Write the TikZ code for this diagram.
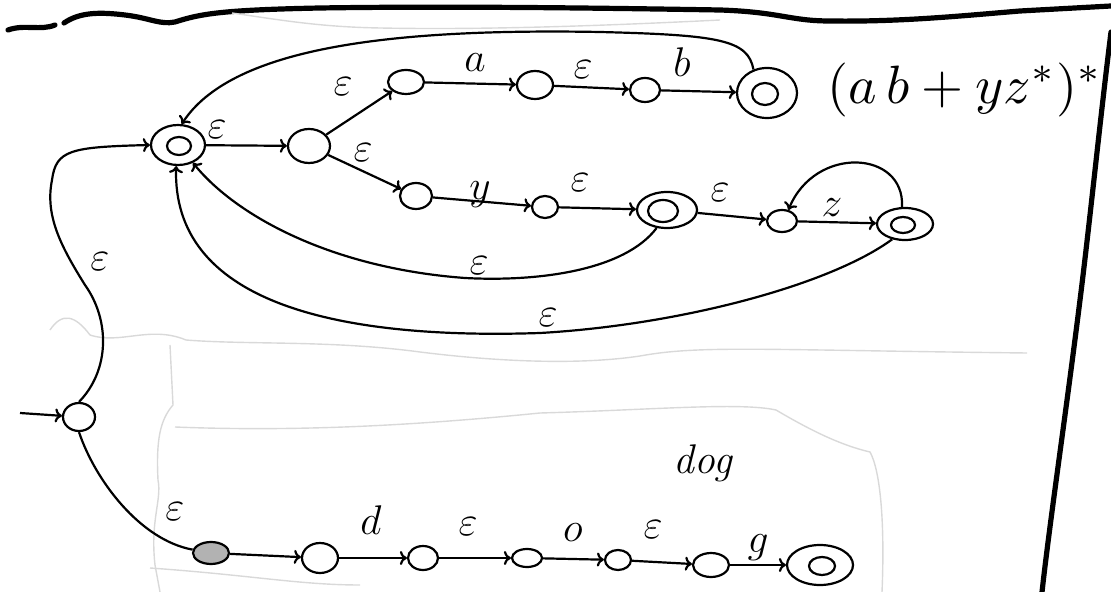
\documentclass[tikz,border=0pt]{standalone}
\usepackage{amssymb}
\usetikzlibrary{arrows,arrows.meta,shapes.geometric}

\begin{document}
\begin{tikzpicture}[x=0.5pt,y=-0.5pt,line width=1.1pt,>={To[length=3.5pt,width=7pt]},
		st/.style={draw,ellipse,inner sep=0pt},
		lbl/.style={font=\huge,inner sep=0pt},
		faint/.style={gray!30,line width=0.7pt},
		rim/.style={line width=2.6pt,line cap=round}]
	\useasboundingbox (0,0) rectangle (1111,592);
	% page edges
	\draw[rim] (8,30) .. controls (25,24) and (40,31) .. (55,25);
	\draw[rim] (64,23) .. controls (80,12) and (100,12) .. (125,15) .. controls (150,18) and (160,25) .. (175,22) .. controls (200,14) and (220,10) .. (320,8) .. controls (450,6) and (600,8) .. (720,10) .. controls (780,12) and (790,21) .. (830,21) .. controls (900,22) and (960,16) .. (1020,11) -- (1111,6);
	\draw[rim] (1111,32) .. controls (1100,120) and (1090,220) .. (1080,300) .. controls (1065,420) and (1050,520) .. (1042,592);
	\draw[faint] (232,13) .. controls (280,20) and (320,27) .. (380,28) .. controls (480,30) and (600,26) .. (720,20);
	\draw[faint] (50,330) .. controls (62,312) and (75,315) .. (90,335) .. controls (120,345) and (150,325) .. (186,340) .. controls (250,345) and (330,340) .. (420,352) .. controls (500,362) and (580,365) .. (640,356) .. controls (700,345) and (760,350) .. (1027,353);
	\draw[faint] (170,345) -- (173,405) .. controls (160,420) and (156,440) .. (158,480) .. controls (162,500) and (150,520) .. (155,565) -- (160,592);
	\draw[faint] (175,427) .. controls (300,432) and (420,425) .. (540,413) .. controls (650,410) and (740,402) .. (776,410) .. controls (810,430) and (840,445) .. (870,452) .. controls (880,470) and (885,520) .. (882,592);
	\draw[faint] (150,568) .. controls (250,575) and (300,585) .. (360,585);

	% (ab+yz*)* part
	\node[st,minimum width=27pt,minimum height=20pt] (S) at (178,145) {};
	\node[st,minimum width=12pt,minimum height=9pt] (Sin) at (179,146) {};
	\node[st,minimum width=21pt,minimum height=17pt] (A) at (309,146) {};
	\node[st,minimum width=18pt,minimum height=12pt] (B1) at (406,82) {};
	\node[st,minimum width=18pt,minimum height=14pt] (B2) at (535,85) {};
	\node[st,minimum width=15pt,minimum height=12pt] (B3) at (645,90) {};
	\node[st,minimum width=30pt,minimum height=25pt] (F1) at (767,93) {};
	\node[st,minimum width=13pt,minimum height=11pt] (F1in) at (765,94) {};
	\node[st,minimum width=16pt,minimum height=13pt] (C1) at (416,196) {};
	\node[st,minimum width=13pt,minimum height=11pt] (C2) at (545,207) {};
	\node[st,minimum width=30pt,minimum height=18pt] (C3) at (667,210) {};
	\node[st,minimum width=15pt,minimum height=11pt] (C3in) at (663,211) {};
	\node[st,minimum width=15pt,minimum height=11pt] (C4) at (782,221) {};
	\node[st,minimum width=28pt,minimum height=16pt] (C5) at (905,224) {};
	\node[st,minimum width=12pt,minimum height=8pt] (C5in) at (903,225) {};
	\node[scale=2.7] (re) at (965,90) {$(a\,b+yz^*)^*$};

	% dog part
	\coordinate (qin) at (20,413);
	\node[st,minimum width=16pt,minimum height=14pt] (q0) at (79,417) {};
	\node[st,fill=gray!60,minimum width=18pt,minimum height=11pt] (D0) at (211,553) {};
	\node[st,minimum width=18pt,minimum height=15pt] (D1) at (320,558) {};
	\node[st,minimum width=15pt,minimum height=12pt] (D2) at (423,558) {};
	\node[st,minimum width=15pt,minimum height=9pt] (D3) at (527,558) {};
	\node[st,minimum width=13pt,minimum height=10pt] (D4) at (618,560) {};
	\node[st,minimum width=18pt,minimum height=12pt] (D5) at (711,565) {};
	\node[st,minimum width=33pt,minimum height=20pt] (D6) at (820,565) {};
	\node[st,minimum width=13pt,minimum height=9pt] (D6in) at (822,566) {};
	\node[font=\huge\itshape] (dog) at (703,463) {dog};

	% labels
	\node[lbl] (eSA) at (217,130) {$\varepsilon$};
	\node[lbl] (eAB) at (343,87) {$\varepsilon$};
	\node[lbl] (la) at (475,63) {$a$};
	\node[lbl] (eB2) at (583,70) {$\varepsilon$};
	\node[lbl] (lb) at (682,62) {$b$};
	\node[lbl] (eAC) at (363,153) {$\varepsilon$};
	\node[lbl] (ly) at (480,195) {$y$};
	\node[lbl] (eC2) at (580,183) {$\varepsilon$};
	\node[lbl] (eC3) at (720,193) {$\varepsilon$};
	\node[lbl] (lz) at (832,208) {$z$};
	\node[lbl] (eIn) at (479,266) {$\varepsilon$};
	\node[lbl] (eOut) at (548,318) {$\varepsilon$};
	\node[lbl] (eL) at (100,262) {$\varepsilon$};
	\node[lbl] (eQ) at (175,512) {$\varepsilon$};
	\node[lbl] (ld) at (371,520) {$d$};
	\node[lbl] (eD2) at (468,527) {$\varepsilon$};
	\node[lbl] (lo) at (573,533) {$o$};
	\node[lbl] (eD4) at (653,530) {$\varepsilon$};
	\node[lbl] (lg) at (758,548) {$g$};

	% transitions
	\draw[->] (S) -- (A);
	\draw[->] (A) -- (B1);
	\draw[->] (B1) -- (B2);
	\draw[->] (B2) -- (B3);
	\draw[->] (B3) -- (F1);
	\draw[->] (A) -- (C1);
	\draw[->] (C1) -- (C2);
	\draw[->] (C2) -- (C3);
	\draw[->] (C3) -- (C4);
	\draw[->] (C4) -- (C5);
	\draw[->] (C5.100) .. controls (905,150) and (815,145) .. (C4.60);
	\draw[->] (F1.120) .. controls (748,40) and (720,35) .. (600,32) .. controls (380,28) and (230,50) .. (S.80);
	\draw[->] (C3.240) .. controls (625,270) and (540,282) .. (465,278) .. controls (330,268) and (235,215) .. (S.-50);
	\draw[->] (C5.230) .. controls (830,285) and (680,325) .. (540,333) .. controls (330,340) and (172,300) .. (S.265);
	\draw[->] (q0.north) .. controls (110,370) and (110,320) .. (85,285) .. controls (60,245) and (45,215) .. (52,180) .. controls (56,150) and (70,147) .. (S.west);
	\draw[->] (qin) -- (q0);
	\draw (q0.south) .. controls (95,480) and (140,540) .. (D0);
	\draw[->] (D0) -- (D1);
	\draw[->] (D1) -- (D2);
	\draw[->] (D2) -- (D3);
	\draw[->] (D3) -- (D4);
	\draw[->] (D4) -- (D5);
	\draw[->] (D5) -- (D6);
\end{tikzpicture}
\end{document}
